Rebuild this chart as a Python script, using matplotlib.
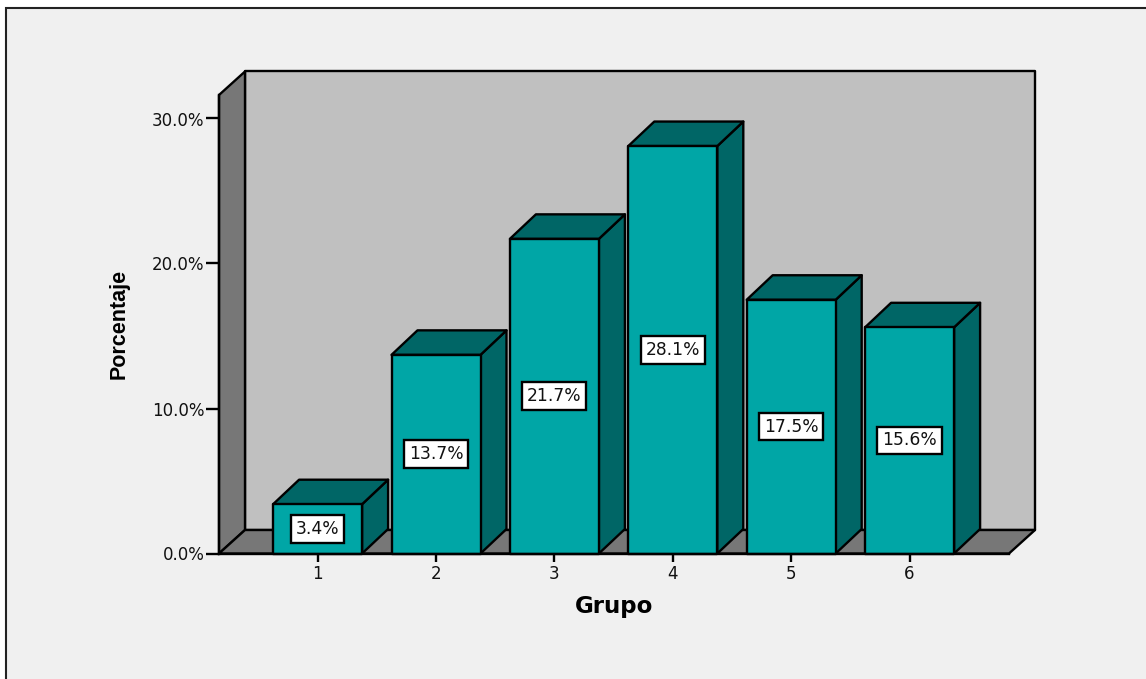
import matplotlib
matplotlib.use('Agg')
import matplotlib.pyplot as plt
from matplotlib.patches import Polygon, Rectangle

groups = [1, 2, 3, 4, 5, 6]
percent = [3.4, 13.7, 21.7, 28.1, 17.5, 15.6]
y_ticks = [0, 10, 20, 30]
y_tick_labels = ['0.0%', '10.0%', '20.0%', '30.0%']

WIDTH, HEIGHT = 1146, 679
PX_X = 118.4   # pixels per group
PX_Y = 14.5    # pixels per percent
LINE = 1.7

WALL = '#c0c0c0'
SHADE = '#777777'
FRONT = '#00a6a6'
DARK = '#006666'
PANEL = '#f0f0f0'
EDGE = '#000000'

fig = plt.figure(figsize=(WIDTH / 100, HEIGHT / 100), dpi=100, facecolor='white')

# panel behind the chart, open on the right and at the bottom
fig.add_artist(Rectangle((6 / WIDTH, -0.05), 1.1, 1.05 - 8 / HEIGHT,
                         transform=fig.transFigure, facecolor=PANEL,
                         edgecolor='#222222', linewidth=1.5, zorder=-1))

ax = fig.add_axes([219 / WIDTH, 1 - 553.5 / HEIGHT, 790 / WIDTH, 458.5 / HEIGHT])
ax.patch.set_visible(False)
x0 = 1 - 98.6 / PX_X
x1 = x0 + 790 / PX_X
y1 = 458.5 / PX_Y
ax.set_xlim(x0, x1)
ax.set_ylim(0, y1)

dx = 26 / PX_X
dy = 23.5 / PX_Y
bar_dy = 24.5 / PX_Y
bar_w = 89 / PX_X


def face(points, color, z=1):
    ax.add_patch(Polygon(points, closed=True, facecolor=color, edgecolor=EDGE,
                         linewidth=LINE, joinstyle='round', clip_on=False, zorder=z))


# back wall, side wall and floor
face([(x0 + dx, dy), (x1 + dx, dy), (x1 + dx, y1 + dy), (x0 + dx, y1 + dy)], WALL)
face([(x0, 0), (x0 + dx, dy), (x0 + dx, y1 + dy), (x0, y1)], SHADE)
face([(x0, 0), (x1, 0), (x1 + dx, dy), (x0 + dx, dy)], SHADE)

# extruded bars with a value box in the middle of each front face
for g, v in zip(groups, percent):
    left = g - bar_w / 2
    right = g + bar_w / 2
    face([(right, 0), (right + dx, bar_dy), (right + dx, v + bar_dy), (right, v)], DARK, 3)
    face([(left, v), (right, v), (right + dx, v + bar_dy), (left + dx, v + bar_dy)], DARK, 3)
    face([(left, 0), (right, 0), (right, v), (left, v)], FRONT, 3)
    ax.text(g, v / 2, f'{v:.1f}%', ha='center', va='center', fontsize=12.3,
            family='DejaVu Sans', color='#111111', zorder=4,
            bbox=dict(boxstyle='square,pad=0.28', facecolor='white',
                      edgecolor=EDGE, linewidth=LINE))

ax.set_xticks(groups)
ax.set_xticklabels([str(g) for g in groups], family='DejaVu Sans', fontsize=12, color='#111111')
ax.set_yticks(y_ticks)
ax.set_yticklabels(y_tick_labels, family='DejaVu Sans', fontsize=12, color='#111111')
ax.tick_params(axis='x', length=6, width=LINE, pad=2)
ax.tick_params(axis='y', length=9.5, width=LINE, pad=1)

for side in ('top', 'right'):
    ax.spines[side].set_visible(False)
for side in ('left', 'bottom'):
    ax.spines[side].set_linewidth(LINE)
    ax.spines[side].set_zorder(5)

ax.set_xlabel('Grupo', family='DejaVu Sans', fontweight='bold', fontsize=16.5, labelpad=9)
ax.set_ylabel('Porcentaje', family='Liberation Sans', fontweight='bold', fontsize=15.5, labelpad=16)

fig.savefig('out.png', dpi=100, facecolor=fig.get_facecolor())
